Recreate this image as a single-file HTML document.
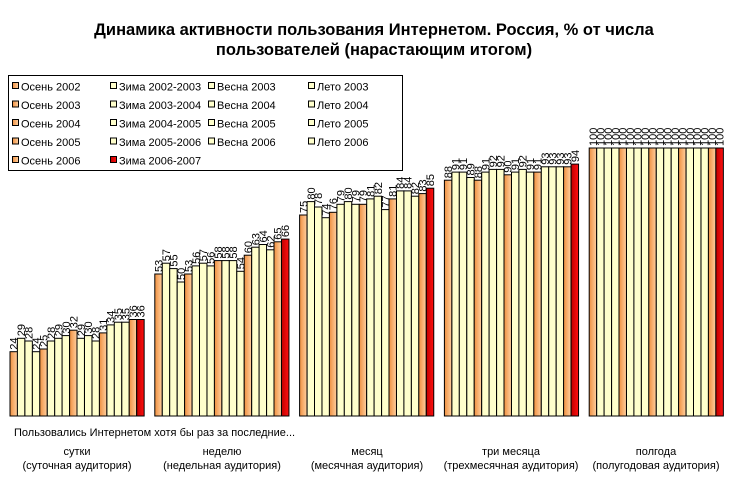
<!DOCTYPE html>
<html><head><meta charset="utf-8"><style>
body{margin:0;background:#fff}
text{font-family:"Liberation Sans",sans-serif}
</style></head><body>
<svg width="748" height="481" xmlns="http://www.w3.org/2000/svg">
<defs>
<linearGradient id="og" x1="0" x2="1"><stop offset="0" stop-color="#f09040"/><stop offset="1" stop-color="#ffd0a0"/></linearGradient>
<linearGradient id="rg" x1="0" x2="1"><stop offset="0" stop-color="#c00000"/><stop offset="1" stop-color="#ff1010"/></linearGradient>
</defs>
<text x="374" y="35" font-size="16.5" font-weight="bold" text-anchor="middle">Динамика активности пользования Интернетом. Россия, % от числа</text>
<text x="374" y="55" font-size="16.5" font-weight="bold" text-anchor="middle">пользователей (нарастающим итогом)</text>
<g id="bars"></g>
<rect x="8.5" y="75.5" width="394" height="95" fill="#fff" stroke="#000"/>
<g font-size="11" id="leg"></g>
<text x="14" y="436" font-size="11">Пользовались Интернетом хотя бы раз за последние...</text>
<g font-size="11" text-anchor="middle">
<text x="77" y="455">сутки</text><text x="77" y="469">(суточная аудитория)</text>
<text x="222" y="455">неделю</text><text x="222" y="469">(недельная аудитория)</text>
<text x="367" y="455">месяц</text><text x="367" y="469">(месячная аудитория)</text>
<text x="511" y="455">три месяца</text><text x="511" y="469">(трехмесячная аудитория)</text>
<text x="656" y="455">полгода</text><text x="656" y="469">(полугодовая аудитория)</text>
</g>
</svg>
<script>
const d=[[24,29,28,24,25,28,29,30,32,29,30,28,31,34,35,35,36,36],
[53,57,55,50,53,56,57,56,58,58,58,54,60,63,64,62,65,66],
[75,80,78,74,76,79,80,79,79,81,82,77,81,84,84,82,83,85],
[88,91,91,89,88,91,92,92,90,91,92,91,91,93,93,93,93,94],
[100,100,100,100,100,100,100,100,100,100,100,100,100,100,100,100,100,100]];
const g=document.getElementById('bars');
function fill(i){return i==17?'url(#rg)':(i%4==0?'url(#og)':'#ffffcc')}
let s='';const base=416,k=2.68,w=7.45;
d.forEach((grp,gi)=>{const x0=10+gi*144.8;grp.forEach((v,i)=>{const x=x0+i*w,y=base-v*k;
s+=`<rect x="${x.toFixed(1)}" y="${y.toFixed(1)}" width="${w}" height="${(v*k).toFixed(1)}" fill="${fill(i)}" stroke="#000" stroke-width="1"/>`;
const cx=x+w/2+4,ty=y-2;s+=`<text font-size="11" transform="translate(${cx.toFixed(1)},${ty.toFixed(1)}) rotate(-90)">${v}</text>`;});});
g.innerHTML=s;
const L=[["Осень 2002","Зима 2002-2003","Весна 2003","Лето 2003"],["Осень 2003","Зима 2003-2004","Весна 2004","Лето 2004"],["Осень 2004","Зима 2004-2005","Весна 2005","Лето 2005"],["Осень 2005","Зима 2005-2006","Весна 2006","Лето 2006"],["Осень 2006","Зима 2006-2007"]];
const cols=[12,110,208,308];let t='';
L.forEach((r,ri)=>r.forEach((n,ci)=>{const y=82+ri*18.5;const f=(ri==4&&ci==1)?'url(#rg)':(ci==0?'url(#og)':'#ffffcc');
t+=`<rect x="${cols[ci]+0.5}" y="${y+0.5}" width="6" height="6" fill="${f}" stroke="#000"/><text x="${cols[ci]+9}" y="${y+8.5}">${n}</text>`;}));
document.getElementById('leg').innerHTML=t;
</script>
</body></html>
